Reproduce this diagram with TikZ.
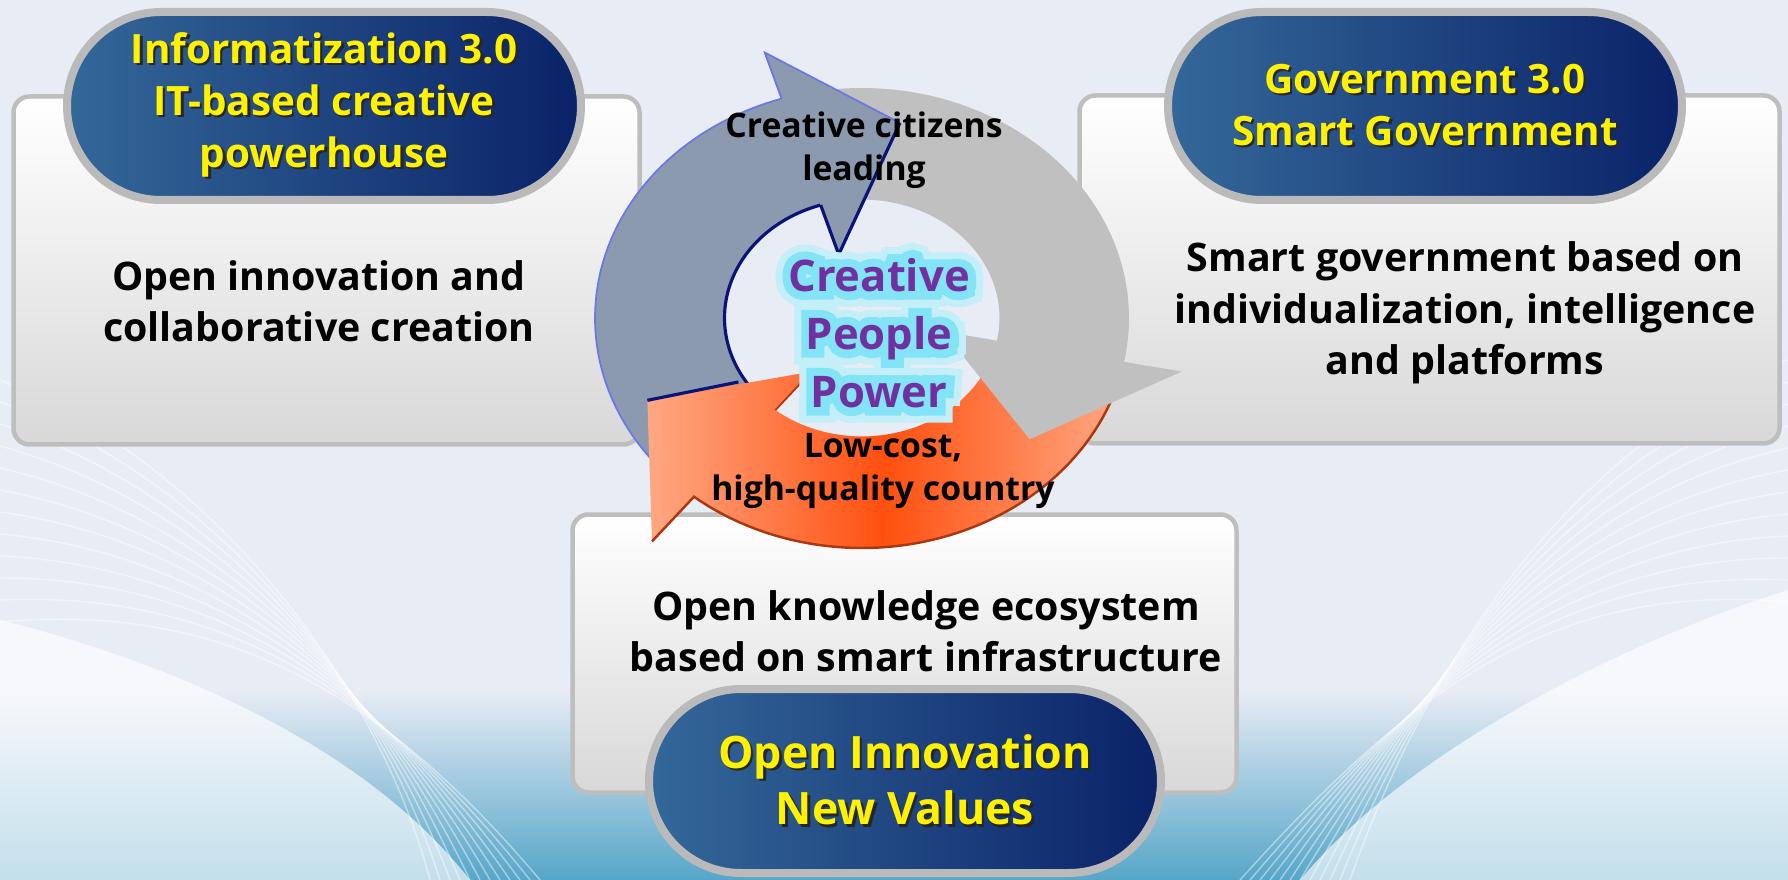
\documentclass[tikz,border=0pt]{standalone}
\usepackage{fontspec}
\setmainfont{Open Sans}
\newfontfamily\glowfont{Open Sans}[FakeBold=38]
\newfontfamily\halofont{Open Sans}[FakeBold=70]

\definecolor{bgblue}{RGB}{232,236,245}
\definecolor{seateal}{RGB}{86,166,200}
\definecolor{pillleft}{RGB}{52,104,153}
\definecolor{pillright}{RGB}{10,34,104}
\definecolor{pillrim}{RGB}{186,186,186}
\definecolor{boxrim}{RGB}{190,190,190}
\definecolor{boxlow}{RGB}{216,216,216}
\definecolor{slate}{RGB}{140,154,176}
\definecolor{slateline}{RGB}{104,120,230}
\definecolor{navyline}{RGB}{10,20,120}
\definecolor{ringgray}{RGB}{192,192,192}
\definecolor{orlight}{RGB}{255,168,132}
\definecolor{ordeep}{RGB}{255,80,15}
\definecolor{orrim}{RGB}{170,55,15}
\definecolor{glow}{RGB}{130,228,246}
\definecolor{halo}{RGB}{196,238,248}
\definecolor{purpletxt}{RGB}{112,48,160}

\newcommand\shadowtxt[1]{\makebox[0pt][l]{\hspace{0.7pt}\raisebox{-0.7pt}{\color{black!85}#1}}#1}
\newcommand\glowtxt[1]{\makebox[0pt][l]{\halofont\bfseries\color{halo}#1}\makebox[0pt][l]{\glowfont\bfseries\color{glow}#1}#1}

\tikzset{
  infobox/.style={draw=boxrim, line width=0.45mm, rounded corners=1.6mm, top color=white, bottom color=boxlow},
  pill/.style={draw=pillrim, line width=0.8mm, left color=pillleft, right color=pillright},
  pilltext/.style={text=yellow, font=\fontsize{11.5}{14.8}\selectfont\bfseries, align=center},
  boxtext/.style={font=\fontsize{11.2}{14.6}\selectfont\bfseries, align=center},
  looptext/.style={font=\fontsize{9.6}{12.2}\selectfont\bfseries, align=center},
  hubtext/.style={text=purpletxt, font=\fontsize{12.4}{16.5}\selectfont\bfseries, align=center}
}

\begin{document}
\begin{tikzpicture}[x=0.1mm,y=-0.1mm]
\useasboundingbox (0,0) rectangle (1788,880);
\clip (0,0) rectangle (1788,880);

% background
\fill[bgblue] (0,0) rectangle (1788,880);
\shade[top color=bgblue, bottom color=seateal] (0,690) rectangle (1788,880);
\foreach \k in {0,...,11}
  \draw[white, line width=0.4pt, opacity=0.45] (0,380+22*\k) .. controls (220,470+12*\k) and (380,690) .. (430+10*\k,880);
\foreach \k in {0,...,11}
  \draw[white, line width=0.4pt, opacity=0.45] (1788,360+22*\k) .. controls (1560,450+12*\k) and (1420,680) .. (1350-10*\k,880);
\fill[white, opacity=0.65] (0,880) -- (0,620) .. controls (160,660) and (360,740) .. (470,880) -- cycle;
\fill[white, opacity=0.65] (1788,880) -- (1788,590) .. controls (1600,650) and (1400,760) .. (1300,880) -- cycle;

% boxes
\node[infobox, minimum width=62.6mm, minimum height=34.8mm] (leftbox) at (326.5,270.5) {};
\node[infobox, minimum width=70.0mm, minimum height=34.8mm] (rightbox) at (1429.5,269.5) {};
\node[infobox, minimum width=66.4mm, minimum height=27.8mm] (lowbox) at (904.5,653.5) {};

% cycle
\begin{scope}[shift={(862,318)}, x=26.7mm, y=23mm]
\fill[slate] plot[domain=222:107.5, samples=60, variable=\t] (\t:1) -- (107.5:1.21) -- (80.5:0.86) -- (107.5:0.29)
  -- plot[domain=107.5:222, samples=60, variable=\t] (\t:0.515) -- cycle;
\draw[slateline, line width=0.5pt] plot[domain=222:107.5, samples=60, variable=\t] (\t:1) -- (107.5:1.21);
\draw[navyline, line width=0.9pt] (107.5:0.515) -- plot[domain=107.5:215, samples=60, variable=\t] (\t:0.515);

\shade[left color=orlight, right color=orlight, middle color=ordeep]
  plot[domain=346:231, samples=60, variable=\t] (\t:1) -- (231:1.25) -- (204:0.88) -- (231:0.30)
  -- plot[domain=231:346, samples=60, variable=\t] (\t:0.515) -- cycle;
\draw[orrim, line width=0.7pt] plot[domain=346:231, samples=60, variable=\t] (\t:1) -- (231:1.25);
\draw[orrim, line width=0.5pt] (231:0.30) -- (231:0.515);
\draw[navyline, line width=0.9pt] (204:0.88) -- (211:0.54);

\fill[ringgray] plot[domain=100:-11, samples=60, variable=\t] (\t:1) -- (-11:1.22) -- (-40:0.82) -- (-11:0.31)
  -- plot[domain=-11:100, samples=60, variable=\t] (\t:0.515) -- cycle;

\fill[slate] (107.5:1.21) -- (80.5:0.86) -- (107.5:0.29) -- cycle;
\draw[slateline, line width=0.5pt] (107.5:1.0) -- (107.5:1.21) -- (80.5:0.86);
\draw[navyline, line width=0.9pt] (80.5:0.86) -- (107.5:0.29) -- (107.5:0.515);
\end{scope}

% pills
\node[pill, minimum width=51.4mm, minimum height=18.8mm, rounded corners=9.4mm, pilltext] (infopill) at (324,106)
  {\shadowtxt{Informatization 3.0}\\\shadowtxt{IT-based creative}\\\shadowtxt{powerhouse}};
\node[pill, minimum width=51.4mm, minimum height=18.8mm, rounded corners=9.4mm, pilltext] (govpill) at (1425,106)
  {\shadowtxt{Government 3.0}\\\shadowtxt{Smart Government}};
\node[pill, minimum width=51.2mm, minimum height=18.4mm, rounded corners=9.2mm, pilltext, font=\fontsize{12.7}{16}\selectfont\bfseries] (openpill) at (905,781)
  {\shadowtxt{Open Innovation}\\\shadowtxt{New Values}};

% texts
\node[boxtext] (leftlines) at (319,301) {Open innovation and\\collaborative creation};
\node[boxtext] (rightlines) at (1465,313) {Smart government based on\\individualization, intelligence\\and platforms};
\node[boxtext] (lowlines) at (926,631) {Open knowledge ecosystem\\based on smart infrastructure};
\node[looptext] (citizens) at (864,150) {Creative citizens\\leading};
\node[looptext] (lowcost) at (883,471) {Low-cost,\\high-quality country};
\node[hubtext] (hub) at (879,333) {\glowtxt{Creative}\\\glowtxt{People}\\\glowtxt{Power}};
\end{tikzpicture}
\end{document}
